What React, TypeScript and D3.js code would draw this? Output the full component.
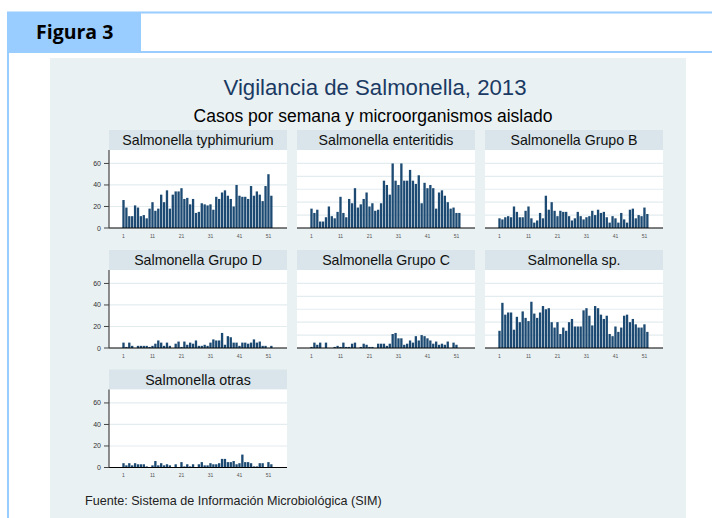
import React from "react";
import * as d3 from "d3";

// weekly case counts, weeks 1..52 of 2013
const typhimurium = [26, 19, 11, 11, 21, 19, 11, 12, 9, 18, 24, 16, 18, 31, 24, 35, 18, 31, 34, 34, 37, 27, 28, 22, 27, 14, 15, 23, 22, 21, 22, 17, 29, 27, 33, 35, 30, 27, 20, 40, 30, 29, 29, 27, 39, 30, 34, 31, 25, 39, 50, 30];
const enteritidis = [18, 14, 17, 6, 6, 10, 20, 11, 9, 15, 29, 14, 10, 27, 23, 37, 19, 22, 27, 33, 20, 23, 16, 17, 23, 44, 40, 31, 60, 44, 40, 60, 44, 44, 54, 44, 41, 49, 23, 42, 37, 40, 37, 18, 33, 35, 30, 24, 18, 19, 14, 14];
const grupoB = [9, 8, 10, 11, 10, 20, 15, 10, 10, 16, 20, 9, 5, 7, 14, 9, 30, 17, 24, 16, 11, 16, 15, 15, 11, 7, 9, 15, 11, 8, 10, 11, 16, 12, 17, 14, 15, 10, 5, 11, 9, 5, 14, 8, 5, 17, 18, 9, 12, 11, 19, 13];
const grupoD = [5, 1, 5, 2, 0, 2, 2, 2, 2, 1, 2, 4, 7, 5, 2, 5, 2, 0, 4, 6, 1, 6, 3, 5, 4, 7, 2, 2, 3, 2, 5, 8, 7, 7, 14, 3, 11, 10, 5, 5, 2, 5, 5, 4, 5, 8, 5, 6, 2, 2, 0, 2];
const grupoC = [1, 5, 3, 5, 0, 5, 0, 0, 1, 2, 1, 5, 1, 1, 4, 5, 0, 1, 4, 3, 1, 1, 0, 4, 4, 4, 2, 4, 13, 14, 9, 9, 3, 4, 7, 5, 11, 7, 12, 11, 9, 7, 4, 6, 3, 4, 3, 6, 0, 5, 3, 0];
const sp = [16, 42, 31, 33, 33, 17, 29, 24, 34, 28, 25, 43, 32, 28, 33, 39, 36, 37, 24, 19, 24, 13, 19, 16, 24, 27, 20, 20, 20, 35, 37, 30, 21, 39, 37, 31, 27, 30, 13, 11, 20, 15, 19, 30, 31, 24, 27, 22, 19, 19, 22, 15];
const otras = [4, 2, 4, 2, 4, 3, 3, 3, 1, 0, 2, 6, 2, 4, 2, 3, 2, 0, 3, 0, 5, 1, 3, 1, 3, 0, 3, 5, 2, 2, 4, 3, 3, 4, 8, 8, 5, 5, 6, 3, 4, 12, 5, 5, 4, 1, 1, 4, 4, 0, 5, 3];

const panelNames = [
  "Salmonella typhimurium",
  "Salmonella enteritidis",
  "Salmonella Grupo B",
  "Salmonella Grupo D",
  "Salmonella Grupo C",
  "Salmonella sp.",
  "Salmonella otras",
];
const panelValues = [typhimurium, enteritidis, grupoB, grupoD, grupoC, sp, otras];

const xTicks = [1, 11, 21, 31, 41, 51];
const yTicks = [0, 20, 40, 60];
const gridFirstCol = [20, 40, 60];
const gridOtherCols = [12, 24, 36, 48, 60];

const W = 712;
const H = 518;
const colX = [109, 297, 485];
const rowY = [130, 250, 369.5];
const panelW = 178;
const stripH = 20;
const plotH = 78;

const frameBlue = "#99ccff";
const barColor = "#1c4a72";

const x = d3.scaleLinear().domain([-4, 57.4]).range([0, panelW]);
const y = d3.scaleLinear().domain([0, 72.5]).range([plotH, 0]);
const barW = (x(2) - x(1)) * 0.8;

function Panel({ name, values, col, row }) {
  const left = colX[col];
  const top = rowY[row];
  const grid = col === 0 ? gridFirstCol : gridOtherCols;
  return (
    <g transform={`translate(${left},${top})`}>
      <rect x={0} y={0} width={panelW} height={stripH} fill="#d9e5ea" />
      <text x={panelW / 2} y={15} textAnchor="middle" fontSize={14.2} fill="#111">
        {name}
      </text>
      <g transform={`translate(0,${stripH})`}>
        <rect x={0} y={0} width={panelW} height={plotH} fill="#fff" />
        {grid.map((g) => (
          <line key={g} x1={0} x2={panelW} y1={y(g)} y2={y(g)} stroke="#e3ecef" strokeWidth={1.2} />
        ))}
        {values.map((v, i) =>
          v > 0 ? (
            <rect key={i} x={x(i + 1) - barW / 2} y={y(v)} width={barW} height={y(0) - y(v)} fill={barColor} />
          ) : null
        )}
        <line x1={0} x2={panelW} y1={y(0)} y2={y(0)} stroke="#000" strokeWidth={1.2} />
        {xTicks.map((t) => (
          <text key={t} x={x(t)} y={y(0) + 9.5} textAnchor="middle" fontSize={5} fill="#555">
            {t}
          </text>
        ))}
        {col === 0 && (
          <g>
            <line x1={0} x2={0} y1={0} y2={y(0)} stroke="#444" strokeWidth={1.2} />
            {yTicks.map((t) => (
              <g key={t}>
                <line x1={-5} x2={0} y1={y(t)} y2={y(t)} stroke="#444" strokeWidth={1} />
                <text x={-8} y={y(t) + 2.5} textAnchor="end" fontSize={7} fill="#333">
                  {t}
                </text>
              </g>
            ))}
          </g>
        )}
      </g>
    </g>
  );
}

export default function App() {
  return (
    <svg
      width={W}
      height={H}
      style={{ position: "absolute", left: 0, top: 0, display: "block", background: "#fff" }}
      fontFamily="'Liberation Sans', Arial, sans-serif"
    >
      {/* frame */}
      <rect x={7} y={12} width={134} height={40} fill={frameBlue} />
      <line x1={7} x2={W} y1={12.5} y2={12.5} stroke={frameBlue} strokeWidth={2} />
      <line x1={7} x2={W} y1={52} y2={52} stroke={frameBlue} strokeWidth={2} />
      <line x1={8} x2={8} y1={12} y2={H} stroke={frameBlue} strokeWidth={2} />
      <text x={36} y={39} fontSize={19.5} fontWeight="bold" fill="#000" fontFamily="'Open Sans', sans-serif">
        Figura 3
      </text>

      {/* graph region */}
      <rect x={50} y={58} width={636} height={H - 58} fill="#eaf1f3" />
      <text x={375} y={95} textAnchor="middle" fontSize={22.2} fill="#1a3a63">
        Vigilancia de Salmonella, 2013
      </text>
      <text x={373} y={122} textAnchor="middle" fontSize={17.5} fill="#000">
        Casos por semana y microorganismos aislado
      </text>

      {panelNames.map((name, i) => (
        <Panel key={name} name={name} values={panelValues[i]} col={i % 3} row={Math.floor(i / 3)} />
      ))}

      <text x={85} y={505} fontSize={12.6} fill="#222">
        Fuente: Sistema de Información Microbiológica (SIM)
      </text>
    </svg>
  );
}
